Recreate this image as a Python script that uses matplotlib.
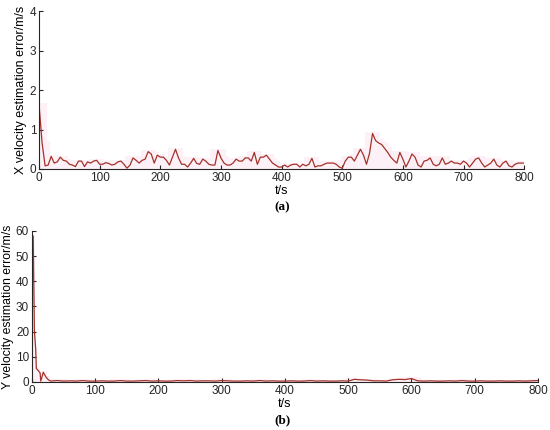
import numpy as np
import pandas as pd
import matplotlib
matplotlib.use('Agg')
import matplotlib.pyplot as plt

# X velocity estimation error, sampled every 5 s (0..800 s)
x_err = [1.63, 0.66, 0.08, 0.10, 0.32, 0.15, 0.18, 0.30, 0.22, 0.20,
	0.12, 0.10, 0.06, 0.20, 0.20, 0.06, 0.18, 0.15, 0.20, 0.22,
	0.12, 0.12, 0.16, 0.14, 0.10, 0.12, 0.18, 0.20, 0.12, 0.02,
	0.10, 0.28, 0.22, 0.15, 0.22, 0.25, 0.44, 0.38, 0.15, 0.35,
	0.30, 0.30, 0.22, 0.10, 0.30, 0.50, 0.28, 0.12, 0.12, 0.05,
	0.15, 0.27, 0.14, 0.12, 0.25, 0.20, 0.12, 0.10, 0.10, 0.47,
	0.28, 0.15, 0.10, 0.10, 0.15, 0.25, 0.20, 0.20, 0.28, 0.28,
	0.20, 0.42, 0.12, 0.30, 0.30, 0.35, 0.25, 0.15, 0.10, 0.05,
	0.05, 0.10, 0.05, 0.10, 0.12, 0.12, 0.05, 0.12, 0.08, 0.12,
	0.27, 0.05, 0.08, 0.08, 0.12, 0.15, 0.15, 0.15, 0.12, 0.05,
	0.02, 0.20, 0.30, 0.30, 0.20, 0.35, 0.50, 0.35, 0.12, 0.40,
	0.90, 0.72, 0.66, 0.62, 0.52, 0.42, 0.30, 0.22, 0.15, 0.42,
	0.25, 0.05, 0.20, 0.38, 0.30, 0.10, 0.05, 0.20, 0.22, 0.28,
	0.12, 0.08, 0.12, 0.28, 0.12, 0.15, 0.20, 0.15, 0.15, 0.12,
	0.20, 0.15, 0.05, 0.15, 0.25, 0.28, 0.15, 0.05, 0.10, 0.15,
	0.25, 0.10, 0.05, 0.15, 0.20, 0.08, 0.05, 0.12, 0.15, 0.15,
	0.15]
x_t = np.arange(0, 5 * len(x_err), 5)

# Y velocity estimation error
y_t = [0, 2, 4, 6, 7, 10, 13, 14, 16, 18, 22, 26, 30,
	40, 50, 60, 70, 80, 90, 100, 110, 120, 130, 140, 150, 160, 170, 180, 190,
	200, 210, 220, 230, 240, 250, 260, 270, 280, 290, 300, 310, 320, 330, 340,
	350, 360, 370, 380, 390, 400, 410, 420, 430, 440, 450, 460, 470, 480, 490,
	500, 510, 520, 530, 540, 550, 560, 570, 580, 590, 600, 610, 620, 630, 640,
	650, 660, 670, 680, 690, 700, 710, 720, 730, 740, 750, 760, 770, 780, 790, 800]
y_err = [30, 58, 20, 13, 5.3, 4.5, 3.5, 0.3, 2.0, 3.8, 2.0, 0.8, 0.3,
	0.5, 0.3, 0.4, 0.3, 0.5, 0.3, 0.3, 0.4, 0.3, 0.3, 0.5, 0.3, 0.3, 0.4, 0.5, 0.3,
	0.4, 0.3, 0.3, 0.5, 0.4, 0.5, 0.3, 0.4, 0.4, 0.3, 0.5, 0.4, 0.3, 0.3, 0.4,
	0.3, 0.5, 0.3, 0.4, 0.3, 0.3, 0.4, 0.3, 0.3, 0.5, 0.3, 0.4, 0.3, 0.3, 0.4,
	0.3, 1.0, 0.8, 0.7, 0.4, 0.4, 0.3, 0.8, 1.0, 0.9, 1.3, 0.4, 0.3, 0.4, 0.3,
	0.3, 0.4, 0.3, 0.5, 0.3, 0.3, 0.4, 0.3, 0.3, 0.4, 0.3, 0.3, 0.4, 0.3, 0.4, 0.5]

line_col = '#a3322a'
band_col = '#fdf0f6'

plt.rcParams['font.family'] = ['Liberation Sans', 'DejaVu Sans']

fig = plt.figure(figsize=(5.5, 4.3), dpi=100)

def style_axes(ax):
	for s in ['top', 'right']:
		ax.spines[s].set_visible(False)
	for s in ['left', 'bottom']:
		ax.spines[s].set_color('#262626')
		ax.spines[s].set_linewidth(0.8)
	ax.tick_params(direction='in', length=3, width=0.8, labelsize=8.5,
		colors='#262626', pad=2)

# (a)
ax1 = fig.add_axes([0.071, 0.607, 0.882, 0.367])
band = pd.Series(x_err).rolling(5, center=True, min_periods=1).max() + 0.04
ax1.fill_between(x_t, 0, band, step='mid', color=band_col, lw=0)
ax1.plot(x_t, x_err, color=line_col, lw=0.9)
ax1.set_xlim(0, 800)
ax1.set_ylim(0, 4)
ax1.set_xticks(range(0, 801, 100))
ax1.set_yticks(range(0, 5))
ax1.set_xlabel('t/s', fontsize=9, labelpad=1)
ax1.set_ylabel('X velocity estimation error/m/s', fontsize=9, labelpad=2)
style_axes(ax1)
fig.text(0.513, 0.518, '(a)', fontsize=9.5, fontweight='bold',
	family='Liberation Serif', ha='center', va='center')

# (b)
ax2 = fig.add_axes([0.058, 0.112, 0.92, 0.351])
band2 = pd.Series(y_err).rolling(3, center=True, min_periods=1).max() + 0.5
ax2.fill_between(y_t, 0, band2, step='mid', color=band_col, lw=0)
ax2.plot(y_t, y_err, color=line_col, lw=0.9)
ax2.set_xlim(0, 800)
ax2.set_ylim(0, 60)
ax2.set_xticks(range(0, 801, 100))
ax2.set_yticks(range(0, 61, 10))
ax2.set_xlabel('t/s', fontsize=9, labelpad=1)
ax2.set_ylabel('Y velocity estimation error/m/s', fontsize=8.8, labelpad=1)
style_axes(ax2)
fig.text(0.513, 0.023, '(b)', fontsize=9.5, fontweight='bold',
	family='Liberation Serif', ha='center', va='center')

fig.savefig('out.png', dpi=100)
